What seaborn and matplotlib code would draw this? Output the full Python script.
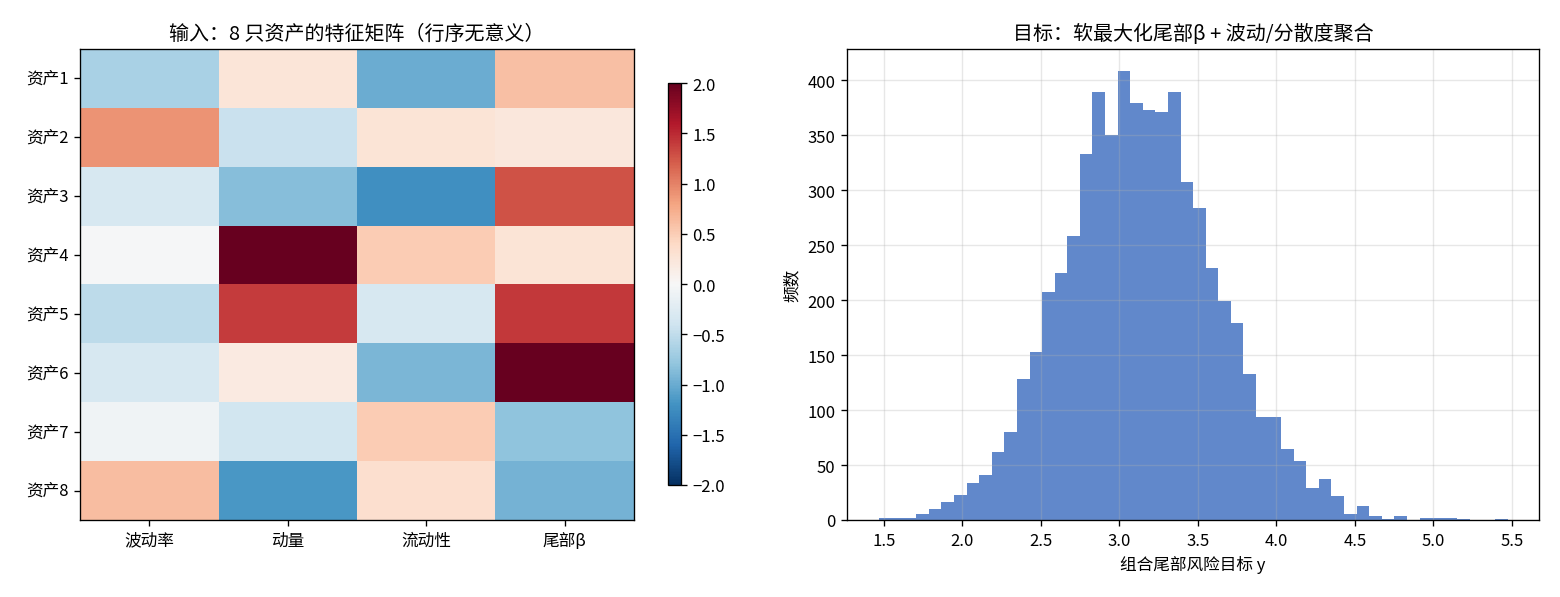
import numpy as np
import pandas as pd
import matplotlib
matplotlib.use("Agg")
import matplotlib.pyplot as plt
import seaborn as sns

plt.rcParams['font.family'] = ['Noto Sans CJK SC', 'DejaVu Sans']
plt.rcParams['axes.unicode_minus'] = True

# heatmap data: 8 assets x 4 features (standardised)
assets = ['资产1', '资产2', '资产3', '资产4', '资产5', '资产6', '资产7', '资产8']
features = ['波动率', '动量', '流动性', '尾部β']
vol = [-0.65, 0.90, -0.33, -0.03, -0.53, -0.33, -0.09, 0.62]
mom = [0.25, -0.45, -0.85, 2.30, 1.40, 0.18, -0.38, -1.16]
liq = [-1.00, 0.27, -1.22, 0.50, -0.33, -0.91, 0.50, 0.33]
tail_beta = [0.60, 0.22, 1.28, 0.27, 1.41, 2.20, -0.80, -0.95]

# histogram of target y: 50 equal bins between hist_lo and hist_hi
hist_lo = 1.466
hist_hi = 5.474
bin_counts = [2, 2, 2, 5, 10, 16, 23, 34, 41, 62,
              80, 128, 153, 207, 225, 258, 333, 389, 350, 408,
              379, 373, 371, 389, 307, 284, 229, 199, 179, 133,
              94, 94, 65, 54, 29, 37, 22, 5, 13, 4,
              1, 4, 0, 2, 2, 2, 1, 0, 0, 1]

feat_df = pd.DataFrame({'波动率': vol, '动量': mom, '流动性': liq, '尾部β': tail_beta},
                       index=assets)[features]

edges = np.linspace(hist_lo, hist_hi, len(bin_counts) + 1)
hist_df = pd.DataFrame({'y': (edges[:-1] + edges[1:]) / 2, 'count': bin_counts})

fig = plt.figure(figsize=(13, 4.9833), dpi=120)
ax1 = fig.add_axes([0.0513, 0.1288, 0.3551, 0.7876])
cax = fig.add_axes([0.4282, 0.1873, 0.0083, 0.6722])
ax2 = fig.add_axes([0.5430, 0.1288, 0.4436, 0.7876])

## left: feature matrix
sns.heatmap(feat_df, ax=ax1, cmap='RdBu_r', vmin=-2, vmax=2, cbar_ax=cax)
for sp in ax1.spines.values():
    sp.set_visible(True)
    sp.set_linewidth(0.8)
    sp.set_color('black')
ax1.set_yticklabels(assets, rotation=0)
ax1.set_xticklabels(features, rotation=0)
ax1.tick_params(length=3.5, width=0.8)
ax1.set_title('输入：8 只资产的特征矩阵（行序无意义）')

cbar = ax1.collections[0].colorbar
cbar.outline.set_visible(True)
cbar.outline.set_linewidth(0.8)
cbar.outline.set_edgecolor('black')
cbar.set_ticks(np.arange(-2.0, 2.01, 0.5))
cbar.ax.tick_params(labelsize=10, length=3.5, width=0.8)

## right: histogram of target
sns.histplot(data=hist_df, x='y', weights='count', bins=list(edges), ax=ax2,
             color='#4573C2', alpha=0.85, linewidth=0, edgecolor='none')
ax2.grid(True, alpha=0.3)
ax2.set_xticks(np.arange(1.5, 5.51, 0.5))
ax2.set_xlabel('组合尾部风险目标 y')
ax2.set_ylabel('频数')
ax2.set_title('目标：软最大化尾部β + 波动/分散度聚合')

fig.savefig('out.png', dpi=120)
